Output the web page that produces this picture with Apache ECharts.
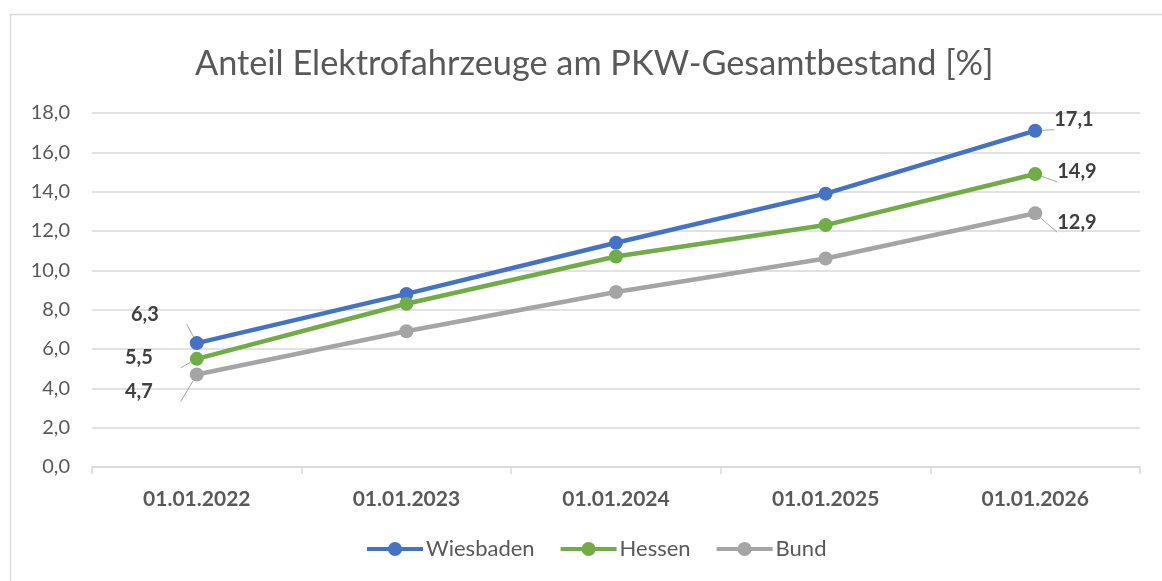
<!DOCTYPE html>
<html><head><meta charset="utf-8">
<script src="https://cdn.jsdelivr.net/npm/echarts@6/dist/echarts.min.js"></script>
<style>html,body{margin:0;padding:0;background:#fff}#c{width:1162px;height:581px}</style>
</head><body><div id="c"></div>
<script>
const categories = ['01.01.2022','01.01.2023','01.01.2024','01.01.2025','01.01.2026'];
const wiesbaden = [6.3, 8.8, 11.4, 13.9, 17.1];
const hessen = [5.5, 8.3, 10.7, 12.3, 14.9];
const bund = [4.7, 6.9, 8.9, 10.6, 12.9];
const yTicks = [0, 2, 4, 6, 8, 10, 12, 14, 16, 18];
const seriesNames = ['Wiesbaden', 'Hessen', 'Bund'];
const colors = ['#4472C4', '#70AD47', '#A5A5A5'];

const FONT = 'Lato, "Open Sans", sans-serif';
const fmt = v => v.toFixed(1).replace('.', ',');

function labelled(values, firstOffset, lastOffset) {
  return values.map((v, i) => {
    if (i === 0) return {value: v, label: {show: true, position: 'left', offset: firstOffset}, labelLine: {show: true}};
    if (i === values.length - 1) return {value: v, label: {show: true, position: 'right', offset: lastOffset}, labelLine: {show: true}};
    return v;
  });
}

const chart = echarts.init(document.getElementById('c'), null, {renderer: 'canvas'});
const labelStyle = {fontFamily: FONT, fontWeight: 'bold', fontSize: 20, color: '#404040', formatter: p => fmt(p.value)};
const mk = (name, data, color) => ({
  name, type: 'line', data, color,
  symbol: 'circle', symbolSize: 14, showSymbol: true,
  lineStyle: {width: 4.5, color},
  itemStyle: {color},
  label: Object.assign({show: false}, labelStyle),
  labelLine: {show: true, lineStyle: {color: '#A6A6A6', width: 1}},
  emphasis: {disabled: true}, animation: false, z: 3
});

chart.setOption({
  animation: false,
  graphic: [{type: 'rect', shape: {x: 10.5, y: 14.5, width: 1200, height: 600}, style: {fill: 'none', stroke: '#D9D9D9', lineWidth: 1.5}, silent: true}],
  title: {text: 'Anteil Elektrofahrzeuge am PKW-Gesamtbestand [%]', left: 190, top: 42,
    textStyle: {fontFamily: FONT, fontWeight: 'normal', fontSize: 34.3, color: '#595959'}},
  legend: {bottom: 16, left: 362, itemWidth: 56, itemHeight: 14, itemGap: 26,
    icon: 'path://M0,5 L56,5 L56,9 L0,9 Z M21,7 A7,7 0 1 1 35,7 A7,7 0 1 1 21,7 Z',
    textStyle: {fontFamily: FONT, fontSize: 22, color: '#595959', padding: [0,0,0,-2]},
    data: seriesNames},
  grid: {left: 92, right: 22, top: 113, bottom: 114, containLabel: false},
  xAxis: {type: 'category', data: categories, boundaryGap: true,
    axisLine: {lineStyle: {color: '#D9D9D9', width: 1.5}},
    axisTick: {show: true, length: 7, lineStyle: {color: '#D9D9D9', width: 1.5}},
    axisLabel: {fontFamily: FONT, fontWeight: 'bold', fontSize: 21, color: '#595959', margin: 22}},
  yAxis: {type: 'value', min: 0, max: 18, interval: 2,
    axisLine: {show: false}, axisTick: {show: false},
    splitLine: {lineStyle: {color: '#D9D9D9', width: 1.5}},
    axisLabel: {fontFamily: FONT, fontSize: 20, color: '#595959', margin: 22,
      formatter: v => yTicks.includes(v) ? fmt(v) : ''}},
  series: [
    mk(seriesNames[0], labelled(wiesbaden, [-26, -29], [7, -11]), colors[0]),
    mk(seriesNames[1], labelled(hessen, [-32, -1], [10, -2]), colors[1]),
    mk(seriesNames[2], labelled(bund, [-32, 17], [10, 9]), colors[2])
  ]
});
</script></body></html>
